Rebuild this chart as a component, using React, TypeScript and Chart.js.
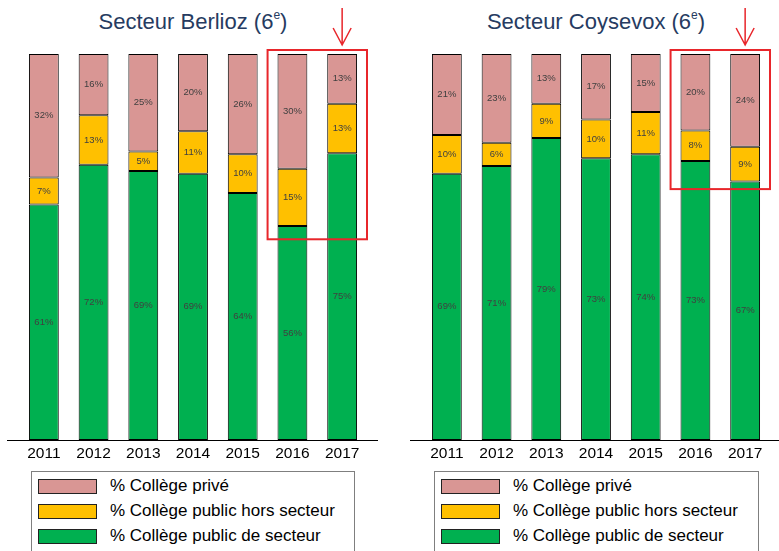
import React, { useEffect, useRef } from "react";
import { Chart, registerables } from "chart.js";

Chart.register(...registerables);

const years = ["2011", "2012", "2013", "2014", "2015", "2016", "2017"];

const seriesLabels = ["% Collège public de secteur", "% Collège public hors secteur", "% Collège privé"];
const seriesColors = ["#00B050", "#FFC000", "#D99694"];

const berliozSecteur = [61, 72, 69, 69, 64, 56, 75];
const berliozHors = [7, 13, 5, 11, 10, 15, 13];
const berliozPrive = [32, 16, 25, 20, 26, 30, 13];

const coysevoxSecteur = [69, 71, 79, 73, 74, 73, 67];
const coysevoxHors = [10, 6, 9, 10, 11, 8, 9];
const coysevoxPrive = [21, 23, 13, 17, 15, 20, 24];

const FONT = "'Liberation Sans', Arial, Helvetica, sans-serif";

type PanelProps = {
  title: string;
  left: number;
  width: number;
  padLeft: number;
  padRight: number;
  series: number[][];
  boxBottomValue: number;
  legendLeft: number;
  legendWidth: number;
};

function Panel(p: PanelProps) {
  const ref = useRef<HTMLCanvasElement | null>(null);
  useEffect(() => {
    if (!ref.current) return;
    const totals = years.map((_, i) => p.series.reduce((s, arr) => s + arr[i], 0));
    const datasets = p.series.map((arr, k) => ({
      label: seriesLabels[k],
      data: arr.map((v, i) => (v / totals[i]) * 100),
      raw: arr,
      backgroundColor: seriesColors[k],
      borderColor: "#000000",
      borderWidth: 1,
      borderSkipped: false as const,
      categoryPercentage: 1,
      barPercentage: 0.6,
    }));

    const labelPlugin = {
      id: "segLabels",
      afterDatasetsDraw(chart: any) {
        const ctx = chart.ctx;
        ctx.save();
        ctx.font = `9.5px ${FONT}`;
        ctx.fillStyle = "#404040";
        ctx.textAlign = "center";
        ctx.textBaseline = "middle";
        chart.data.datasets.forEach((ds: any, di: number) => {
          const meta = chart.getDatasetMeta(di);
          meta.data.forEach((el: any, i: number) => {
            const { x, y, base } = el.getProps(["x", "y", "base"], true);
            ctx.fillText(ds.raw[i] + "%", x, (y + base) / 2);
          });
        });
        ctx.restore();
      },
    };

    const decoPlugin = {
      id: "deco",
      afterDraw(chart: any) {
        const ctx = chart.ctx;
        const xs = chart.scales.x;
        const ys = chart.scales.y;
        const area = chart.chartArea;
        ctx.save();
        // baseline
        ctx.strokeStyle = "#000";
        ctx.lineWidth = 1;
        ctx.beginPath();
        ctx.moveTo(area.left - 12, Math.round(area.bottom) + 0.5);
        ctx.lineTo(area.right + 11, Math.round(area.bottom) + 0.5);
        ctx.stroke();
        // red box around 2016-2017
        const half = (xs.getPixelForValue(1) - xs.getPixelForValue(0)) / 2;
        const x0 = xs.getPixelForValue(5) - half;
        const x1 = xs.getPixelForValue(6) + half;
        const y0 = ys.getPixelForValue(100) - 4;
        const y1 = ys.getPixelForValue(p.boxBottomValue);
        ctx.strokeStyle = "#E8262B";
        ctx.lineWidth = 2;
        ctx.strokeRect(x0, y0, x1 - x0, y1 - y0);
        // arrow
        const ax = xs.getPixelForValue(6);
        ctx.lineWidth = 1.5;
        ctx.beginPath();
        ctx.moveTo(ax, 8);
        ctx.lineTo(ax, 45);
        ctx.moveTo(ax - 9, 28);
        ctx.lineTo(ax, 45);
        ctx.lineTo(ax + 9, 28);
        ctx.stroke();
        ctx.restore();
      },
    };

    const chart = new Chart(ref.current, {
      type: "bar",
      data: { labels: years, datasets: datasets as any },
      options: {
        animation: false,
        responsive: true,
        maintainAspectRatio: false,
        layout: { padding: { left: p.padLeft, right: p.padRight, top: 54, bottom: 0 } },
        plugins: { legend: { display: false }, tooltip: { enabled: false }, title: { display: false } },
        scales: {
          x: {
            stacked: true,
            grid: { display: false, drawTicks: false },
            border: { display: false },
            ticks: { color: "#000", font: { family: FONT, size: 15.5 }, padding: 4 },
            afterFit: (scale: any) => {
              scale.height = 30;
            },
          },
          y: { stacked: true, display: false, min: 0, max: 100 },
        },
      },
      plugins: [labelPlugin, decoPlugin],
    });
    return () => chart.destroy();
  }, []);

  const legendItems = [2, 1, 0];
  return (
    <div style={{ position: "absolute", left: p.left, top: 0, width: p.width, height: 551 }}>
      <div
        style={{
          position: "absolute",
          left: p.padLeft,
          width: p.width - p.padLeft - p.padRight,
          top: 10,
          textAlign: "center",
          fontFamily: FONT,
          fontSize: 22,
          lineHeight: "24px",
          color: "#263B61",
          whiteSpace: "nowrap",
        }}
      >
        {p.title} (6
        <sup style={{ fontSize: 12, verticalAlign: "baseline", position: "relative", top: -10 }}>e</sup>)
      </div>
      <div style={{ position: "absolute", left: 0, top: 0, width: p.width, height: 470 }}>
        <canvas ref={ref} />
      </div>
      <div
        style={{
          position: "absolute",
          left: p.legendLeft,
          top: 471,
          width: p.legendWidth,
          height: 100,
          border: "1px solid #7F7F7F",
          boxSizing: "border-box",
        }}
      >
        {legendItems.map((k, r) => (
          <div key={k}>
            <div
              style={{
                position: "absolute",
                left: 6,
                top: 7 + r * 25,
                width: 59,
                height: 15,
                background: seriesColors[k],
                border: "1px solid #222",
                boxSizing: "border-box",
              }}
            />
            <div
              style={{
                position: "absolute",
                left: 78,
                top: 4 + r * 25,
                fontFamily: FONT,
                fontSize: 17,
                lineHeight: "20px",
                color: "#000",
                whiteSpace: "nowrap",
              }}
            >
              {seriesLabels[k]}
            </div>
          </div>
        ))}
      </div>
    </div>
  );
}

export default function App() {
  return (
    <div style={{ position: "fixed", left: 0, top: 0, width: 779, height: 551, overflow: "hidden", background: "#fff" }}>
      <Panel
        title="Secteur Berlioz"
        left={0}
        width={390}
        padLeft={19}
        padRight={23}
        series={[berliozSecteur, berliozHors, berliozPrive]}
        boxBottomValue={52}
        legendLeft={31}
        legendWidth={324}
      />
      <Panel
        title="Secteur Coysevox"
        left={390}
        width={389}
        padLeft={32}
        padRight={9}
        series={[coysevoxSecteur, coysevoxHors, coysevoxPrive]}
        boxBottomValue={65}
        legendLeft={44}
        legendWidth={325}
      />
    </div>
  );
}
